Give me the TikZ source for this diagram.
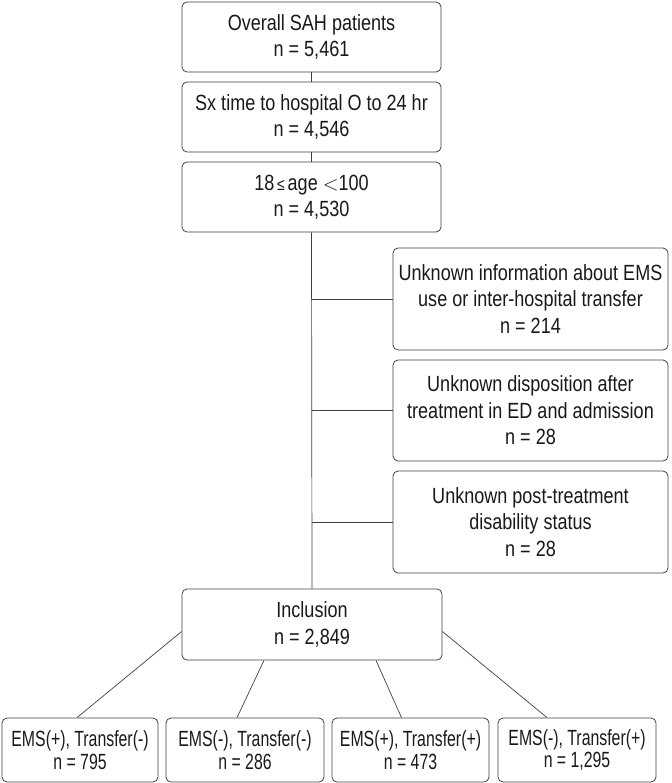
\documentclass[tikz,border=0pt]{standalone}
\usepackage{fontspec}
\setmainfont{Liberation Sans}[FakeStretch=0.82]
\newfontfamily\narrowfont{Liberation Sans}[FakeStretch=0.72]
\begin{document}
\begin{tikzpicture}[x=1pt,y=-1pt,
  box/.style={draw=black!75, line width=0.8pt, rounded corners=5pt, align=center,
    inner sep=0pt, font=\fontsize{22}{26.5}\selectfont, text=black!90},
  small/.style={font=\narrowfont\fontsize{22}{22.5}\selectfont},
  link/.style={draw=black!75, line width=0.7pt}]
\useasboundingbox (0,0) rectangle (671,783);
\node[box, minimum width=259pt, minimum height=70pt] (a1) at (311.5,37) {Overall SAH patients\\n = 5,461};
\node[box, minimum width=259pt, minimum height=70pt] (a2) at (311.5,117) {Sx time to hospital O to 24 hr\\n = 4,546};
\node[box, minimum width=259pt, minimum height=70pt] (a3) at (311.5,197) {18{\fontsize{17}{20}\selectfont\,≤\,}age {\fontsize{20}{20}\selectfont$<$}100\\n = 4,530};
\node[box, minimum width=275pt, minimum height=102pt] (r1) at (530.5,299) {Unknown information about EMS\\use or inter-hospital transfer\\n = 214};
\node[box, minimum width=275pt, minimum height=101pt] (r2) at (530.5,410.5) {Unknown disposition after\\treatment in ED and admission\\n = 28};
\node[box, minimum width=275pt, minimum height=102pt] (r3) at (530.5,522) {Unknown post-treatment\\disability status\\n = 28};
\node[box, minimum width=260pt, minimum height=71pt] (inc) at (312,624.5) {Inclusion\\n = 2,849};
\node[box, small, minimum width=156pt, minimum height=64pt] (b1) at (80,750) {EMS(+), Transfer(-)\\n = 795};
\node[box, small, minimum width=158pt, minimum height=64pt] (b2) at (245,750) {EMS(-), Transfer(-)\\n = 286};
\node[box, small, minimum width=157pt, minimum height=64pt] (b3) at (410.5,750) {EMS(+), Transfer(+)\\n = 473};
\node[box, small, minimum width=158pt, minimum height=64pt] (b4) at (577,750) {EMS(-), Transfer(+)\\n = 1,295};
\draw[link] (a1) -- (a2);
\draw[link] (a2) -- (a3);
\draw[link] (a3.south) -- (inc.north);
\draw[link] (r1.west -| a3.south) -- (r1.west);
\draw[link] (r2.west -| a3.south) -- (r2.west);
\draw[link] (r3.west -| a3.south) -- (r3.west);
\draw[link] ([yshift=-7pt]inc.west) -- ([xshift=-3pt]b1.north);
\draw[link] ([xshift=-48pt]inc.south) -- ([xshift=-8pt]b2.north);
\draw[link] ([xshift=64pt]inc.south) -- ([xshift=-9pt]b3.north);
\draw[link] ([yshift=-7pt]inc.east) -- ([xshift=-30pt]b4.north);
\end{tikzpicture}
\end{document}
